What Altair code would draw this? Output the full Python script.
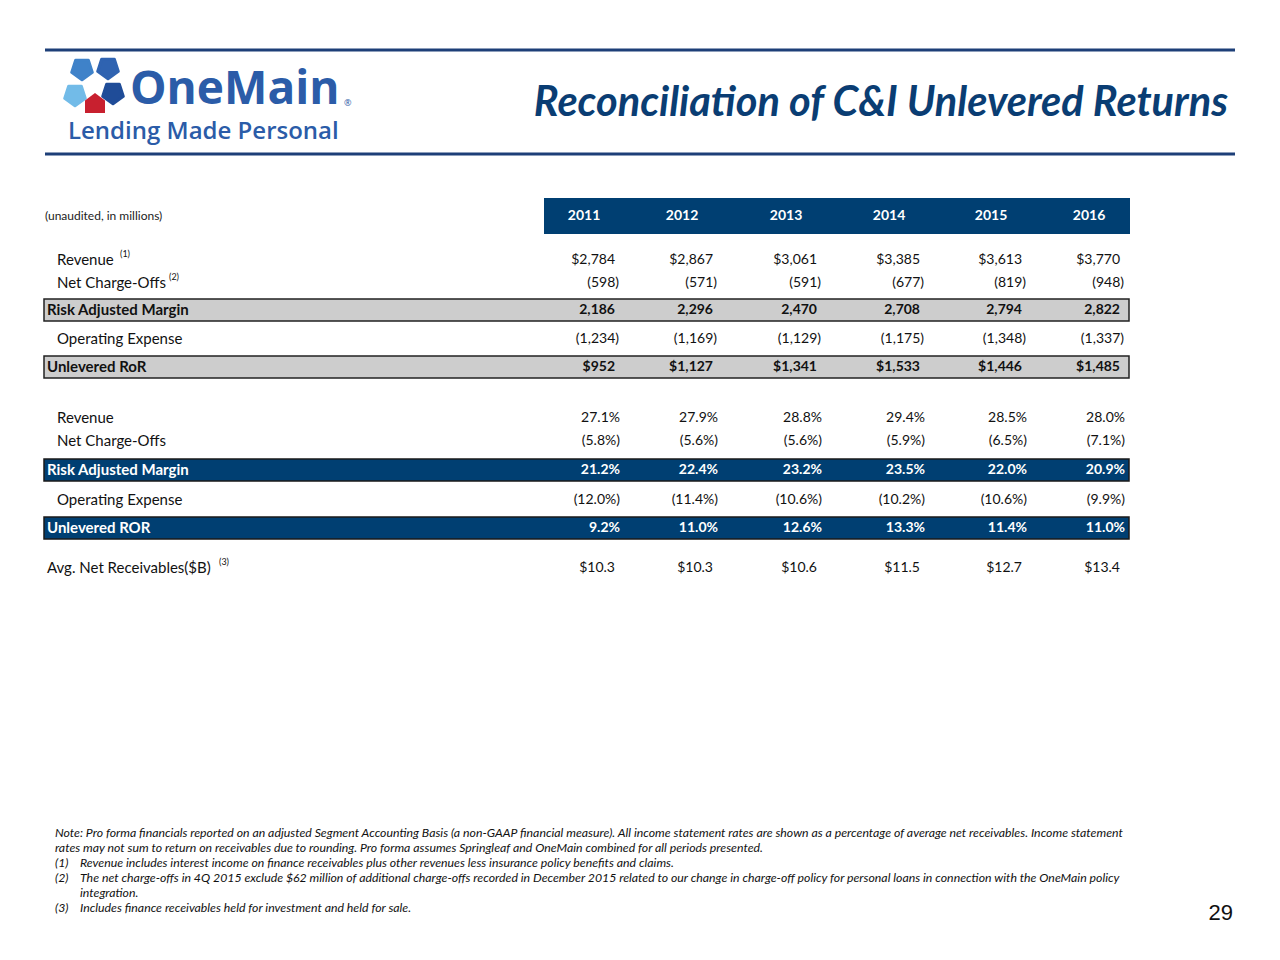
import altair as alt
import pandas as pd

# ---------------- data ----------------
years = ["2011", "2012", "2013", "2014", "2015", "2016"]
revenue = [2784, 2867, 3061, 3385, 3613, 3770]
net_charge_offs = [-598, -571, -591, -677, -819, -948]
risk_adjusted_margin = [2186, 2296, 2470, 2708, 2794, 2822]
operating_expense = [-1234, -1169, -1129, -1175, -1348, -1337]
unlevered_ror = [952, 1127, 1341, 1533, 1446, 1485]
revenue_pct = [27.1, 27.9, 28.8, 29.4, 28.5, 28.0]
nco_pct = [-5.8, -5.6, -5.6, -5.9, -6.5, -7.1]
ram_pct = [21.2, 22.4, 23.2, 23.5, 22.0, 20.9]
opex_pct = [-12.0, -11.4, -10.6, -10.2, -10.6, -9.9]
ror_pct = [9.2, 11.0, 12.6, 13.3, 11.4, 11.0]
avg_net_receivables = [10.3, 10.3, 10.6, 11.5, 12.7, 13.4]

row_labels = ["Revenue", "Net Charge-Offs", "Risk Adjusted Margin", "Operating Expense",
              "Unlevered RoR", "Revenue", "Net Charge-Offs", "Risk Adjusted Margin",
              "Operating Expense", "Unlevered ROR", "Avg. Net Receivables($B)"]
row_values = [revenue, net_charge_offs, risk_adjusted_margin, operating_expense, unlevered_ror,
              revenue_pct, nco_pct, ram_pct, opex_pct, ror_pct, avg_net_receivables]
row_formats = ["dollar", "paren", "plain", "paren", "dollar",
               "pct", "pct", "pct", "pct", "pct", "dollar1"]
row_styles = ["plain", "plain", "gray", "plain", "gray",
              "plain", "plain", "navy", "plain", "navy", "left"]
superscripts = {0: "(1)", 1: "(2)", 10: "(3)"}

title_text = "Reconciliation of C&I Unlevered Returns"
unit_note = "(unaudited, in millions)"
footnotes = [
    ("", "Note: Pro forma financials reported on an adjusted Segment Accounting Basis (a non-GAAP financial measure). All income statement rates are shown as a percentage of average net receivables. Income statement"),
    ("", "rates may not sum to return on receivables due to rounding. Pro forma assumes Springleaf and OneMain combined for all periods  presented."),
    ("(1)", "Revenue includes interest income on finance receivables plus other revenues less insurance policy benefits and claims."),
    ("(2)", "The net charge-offs in 4Q 2015 exclude $62 million of additional charge-offs recorded in December 2015 related to our change in charge-off policy for personal loans in connection with the OneMain policy"),
    ("", "integration."),
    ("(3)", "Includes finance receivables held for investment and held for sale."),
]
page_number = "29"

# ---------------- layout (page pixel space) ----------------
W, H = 1264, 944
col_right = [615, 713, 817, 920, 1022, 1120]
row_y = [260, 283, 310, 339, 367, 418, 441, 470, 500, 528, 568]
header_y = 216
box_x0, box_x1 = 44, 1129
NAVY = "#003f72"
GRAY = "#cdcdcd"
TITLE_BLUE = "#0a3d73"
RULE_BLUE = "#1d3f78"
LOGO_BLUE = "#2b5ca8"
FONT = "Lato"


def fmt(v, kind):
    if kind == "dollar":
        return f"${v:,.0f}"
    if kind == "plain":
        return f"{v:,.0f}"
    if kind == "paren":
        return f"({abs(v):,.0f})" if v < 0 else f"{v:,.0f}"
    if kind == "pct":
        return f"({abs(v):.1f}%)" if v < 0 else f"{v:.1f}%"
    if kind == "dollar1":
        return f"${v:.1f}"
    return str(v)


cells, labels, boxes, sups = [], [], [], []
for i, (lab, vals, kind, style) in enumerate(zip(row_labels, row_values, row_formats, row_styles)):
    y = row_y[i]
    for j, v in enumerate(vals):
        s = fmt(v, kind)
        dx = 0
        if kind == "pct":
            dx = 5
        elif kind == "paren" and v < 0:
            dx = 4
        cells.append({"x": col_right[j] + dx, "y": y, "text": s, "style": style})
    labels.append({"x": 57 if style == "plain" else 47, "y": y, "text": lab, "style": style})
    if style in ("gray", "navy"):
        boxes.append({"x": box_x0, "x2": box_x1, "y": y - 11, "y2": y + 11, "style": style})
    if i in superscripts:
        sups.append({"label": lab, "y": y - 6, "text": superscripts[i], "style": style})

sup_x = {"Revenue": 120, "Net Charge-Offs": 169, "Avg. Net Receivables($B)": 219}
for s in sups:
    s["x"] = sup_x[s["label"]]

cells = pd.DataFrame(cells)
labels = pd.DataFrame(labels)
boxes = pd.DataFrame(boxes)
sups = pd.DataFrame(sups)
header = pd.DataFrame({"x": [c - 31 for c in col_right], "y": header_y, "text": years})

foot_y = [833, 848, 863, 878, 893, 908]
foot = pd.DataFrame({"num": [f[0] for f in footnotes], "text": [f[1] for f in footnotes], "y": foot_y})
foot["x"] = [55 if n == "" and i < 2 else 80 for i, n in enumerate(foot["num"])]
foot_nums = foot[foot["num"] != ""].copy()
foot_nums["x"] = 55

xs = alt.Scale(domain=[8, 8 + W], nice=False, zero=False)
ys = alt.Scale(domain=[8, 8 + H], nice=False, zero=False, reverse=True)


def X(f="x"):
    return alt.X(f, type="quantitative", scale=xs, axis=None)


def Y(f="y"):
    return alt.Y(f, type="quantitative", scale=ys, axis=None)


def X2(f="x2"):
    return alt.X2(f)


def Y2(f="y2"):
    return alt.Y2(f)


layers = []

# top / bottom rules
rules = pd.DataFrame({"x": [45, 45], "x2": [1235, 1235], "y": [50, 154]})
layers.append(alt.Chart(rules).mark_rule(color=RULE_BLUE, strokeWidth=3).encode(
    x=X(), x2=X2(), y=Y()))

# logo pieces
logo = pd.DataFrame({
    "x": [82, 108, 113, 75],
    "y": [69, 68, 93, 95],
    "angle": [324, 36, 108, 252],
    "color": ["#3f82c9", "#2f63b1", "#1f4c98", "#72bbe8"],
})
pent = "M0,-1L0.951,-0.309L0.588,0.809L-0.588,0.809L-0.951,-0.309Z"
layers.append(alt.Chart(logo).mark_point(shape=pent, filled=True, opacity=1, size=470,
                                         strokeJoin="round").encode(
    x=X(), y=Y(), angle=alt.Angle("angle:Q", scale=None),
    color=alt.Color("color:N", scale=None), stroke=alt.Stroke("color:N", scale=None),
    strokeWidth=alt.value(3)))
house = pd.DataFrame({"x": [95], "y": [103]})
layers.append(alt.Chart(house).mark_point(
    shape="M0,-1L1,-0.25L1,1L-1,1L-1,-0.25Z", filled=True, opacity=1, size=400,
    color="#c8202f").encode(x=X(), y=Y()))

logo_text = pd.DataFrame({"x": [130, 68, 344], "y": [90, 132, 103],
                          "text": ["OneMain", "Lending Made Personal", "®"]})
layers.append(alt.Chart(logo_text.iloc[[0]]).mark_text(
    align="left", baseline="middle", font="Open Sans", fontSize=46, fontWeight="bold",
    color=LOGO_BLUE).encode(x=X(), y=Y(), text="text:N"))
layers.append(alt.Chart(logo_text.iloc[[1]]).mark_text(
    align="left", baseline="middle", font="Open Sans", fontSize=24, fontWeight=600,
    color=LOGO_BLUE).encode(x=X(), y=Y(), text="text:N"))
layers.append(alt.Chart(logo_text.iloc[[2]]).mark_text(
    align="left", baseline="middle", font="Open Sans", fontSize=9,
    color=LOGO_BLUE).encode(x=X(), y=Y(), text="text:N"))

# title
title_df = pd.DataFrame({"x": [1228], "y": [104], "text": [title_text]})
layers.append(alt.Chart(title_df).mark_text(
    align="right", baseline="middle", font=FONT, fontSize=41.5, fontWeight="bold",
    fontStyle="italic", color=TITLE_BLUE).encode(x=X(), y=Y(), text="text:N"))

# header band
hdr_box = pd.DataFrame({"x": [544], "x2": [1130], "y": [198], "y2": [234]})
layers.append(alt.Chart(hdr_box).mark_rect(color=NAVY).encode(x=X(), x2=X2(), y=Y(), y2=Y2()))
layers.append(alt.Chart(header).mark_text(
    align="center", baseline="middle", font=FONT, fontSize=14, fontWeight="bold",
    color="white").encode(x=X(), y=Y(), text="text:N"))
unit_df = pd.DataFrame({"x": [45], "y": [header_y], "text": [unit_note]})
layers.append(alt.Chart(unit_df).mark_text(
    align="left", baseline="middle", font=FONT, fontSize=12, color="#222222").encode(
    x=X(), y=Y(), text="text:N"))

# highlight boxes
layers.append(alt.Chart(boxes[boxes["style"] == "gray"]).mark_rect(
    fill=GRAY, stroke="#222222", strokeWidth=1.5).encode(x=X(), x2=X2(), y=Y(), y2=Y2()))
layers.append(alt.Chart(boxes[boxes["style"] == "navy"]).mark_rect(
    fill=NAVY, stroke="#1a1a1a", strokeWidth=1.5).encode(x=X(), x2=X2(), y=Y(), y2=Y2()))

# labels and values
for style, weight, color in [("plain", "normal", "#111111"), ("left", "normal", "#111111"),
                             ("gray", "bold", "#111111"), ("navy", "bold", "white")]:
    d = labels[labels["style"] == style]
    layers.append(alt.Chart(d).mark_text(
        align="left", baseline="middle", font=FONT, fontSize=15, fontWeight=weight,
        color=color).encode(x=X(), y=Y(), text="text:N"))
    c = cells[cells["style"] == style]
    layers.append(alt.Chart(c).mark_text(
        align="right", baseline="middle", font=FONT, fontSize=14, fontWeight=weight,
        color=color).encode(x=X(), y=Y(), text="text:N"))

layers.append(alt.Chart(sups).mark_text(
    align="left", baseline="middle", font=FONT, fontSize=9, color="#111111").encode(
    x=X(), y=Y(), text="text:N"))

# footnotes
layers.append(alt.Chart(foot).mark_text(
    align="left", baseline="middle", font=FONT, fontSize=12.3, fontStyle="italic",
    color="#111111").encode(x=X(), y=Y(), text="text:N"))
layers.append(alt.Chart(foot_nums).mark_text(
    align="left", baseline="middle", font=FONT, fontSize=12.3, fontStyle="italic",
    color="#111111").encode(x=X(), y=Y(), text="num:N"))

page_df = pd.DataFrame({"x": [1233], "y": [913], "text": [page_number]})
layers.append(alt.Chart(page_df).mark_text(
    align="right", baseline="middle", font="Liberation Sans", fontSize=22,
    color="#111111").encode(x=X(), y=Y(), text="text:N"))

chart = alt.layer(*layers).properties(
    width=W, height=H, padding=0,
    autosize=alt.AutoSizeParams(type="fit", contains="padding"),
    background="white",
).configure_view(stroke=None)

chart.save("out.html", embed_options={"renderer": "svg", "actions": False})
